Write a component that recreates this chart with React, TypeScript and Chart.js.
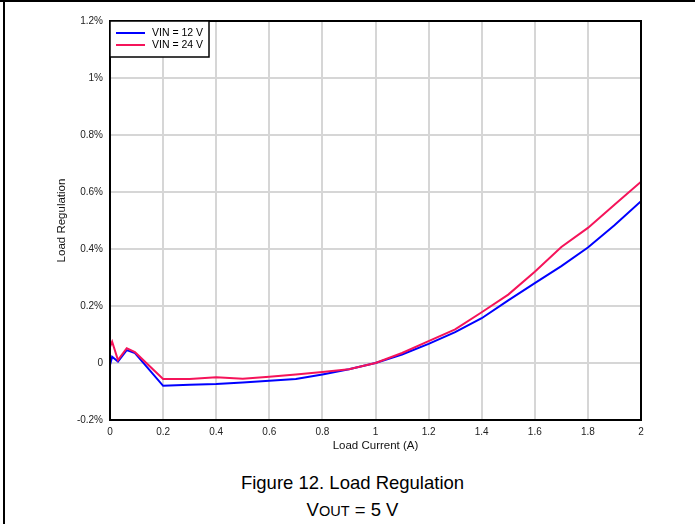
import React, { useEffect, useRef } from "react";
import { Chart, registerables } from "chart.js";

Chart.register(...registerables);

const FONT = '"Liberation Sans", Arial, Helvetica, sans-serif';

// Load current (A)
const currentVin12: number[] = [0, 0.008, 0.03, 0.063, 0.094, 0.2, 0.3, 0.4, 0.5, 0.6, 0.7, 0.8, 0.9, 1.0, 1.1, 1.2, 1.3, 1.4, 1.5, 1.6, 1.7, 1.8, 1.9, 2.0];
// Load regulation (%)
const regVin12: number[] = [-0.007, 0.022, 0.005, 0.045, 0.035, -0.08, -0.076, -0.074, -0.068, -0.062, -0.056, -0.04, -0.022, 0, 0.03, 0.067, 0.108, 0.157, 0.22, 0.28, 0.34, 0.405, 0.483, 0.568];

const currentVin24: number[] = [0, 0.008, 0.03, 0.063, 0.094, 0.2, 0.3, 0.4, 0.5, 0.6, 0.7, 0.8, 0.9, 1.0, 1.1, 1.2, 1.3, 1.4, 1.5, 1.6, 1.7, 1.8, 1.9, 2.0];
const regVin24: number[] = [0.057, 0.075, 0.01, 0.052, 0.038, -0.056, -0.056, -0.05, -0.055, -0.048, -0.04, -0.032, -0.022, 0, 0.035, 0.077, 0.118, 0.178, 0.24, 0.32, 0.407, 0.474, 0.555, 0.636];

const seriesLabels: string[] = ["VIN = 12 V", "VIN = 24 V"];
const seriesColors: string[] = ["#0000ff", "#f5145a"];

const xMin = 0, xMax = 2, xStep = 0.2;
const yMin = -0.2, yMax = 1.2, yStep = 0.2;

const fmt = (v: number) => Math.round(v * 10) / 10;

const frameAndLegend = {
  id: "frameAndLegend",
  afterDraw(chart: any) {
    const { ctx, chartArea } = chart;
    ctx.save();
    // plot border
    ctx.strokeStyle = "#000";
    ctx.lineWidth = 2;
    ctx.strokeRect(chartArea.left, chartArea.top, chartArea.right - chartArea.left, chartArea.bottom - chartArea.top);
    // legend box
    const bx = chartArea.left;
    const by = chartArea.top;
    const bw = 99;
    const bh = 36;
    ctx.fillStyle = "#fff";
    ctx.fillRect(bx, by, bw, bh);
    ctx.lineWidth = 1.5;
    ctx.strokeRect(bx, by, bw, bh);
    ctx.font = `10.5px ${FONT}`;
    ctx.textBaseline = "middle";
    ctx.textAlign = "left";
    chart.data.datasets.forEach((ds: any, i: number) => {
      const y = by + 12 + i * 12;
      ctx.strokeStyle = ds.borderColor;
      ctx.lineWidth = 2;
      ctx.beginPath();
      ctx.moveTo(bx + 6, y);
      ctx.lineTo(bx + 35, y);
      ctx.stroke();
      ctx.fillStyle = "#000";
      ctx.fillText(ds.label, bx + 42, y + 0.5);
    });
    ctx.restore();
  },
};

export default function App() {
  const canvasRef = useRef<HTMLCanvasElement | null>(null);

  useEffect(() => {
    if (!canvasRef.current) return;
    const chart = new Chart(canvasRef.current, {
      type: "line",
      data: {
        datasets: [
          {
            label: seriesLabels[0],
            data: currentVin12.map((x, i) => ({ x, y: regVin12[i] })),
            borderColor: seriesColors[0],
            backgroundColor: seriesColors[0],
            borderWidth: 2,
            pointRadius: 0,
            tension: 0,
            order: 2,
          },
          {
            label: seriesLabels[1],
            data: currentVin24.map((x, i) => ({ x, y: regVin24[i] })),
            borderColor: seriesColors[1],
            backgroundColor: seriesColors[1],
            borderWidth: 2,
            pointRadius: 0,
            tension: 0,
            order: 1,
          },
        ],
      },
      options: {
        responsive: false,
        animation: false,
        layout: { padding: { left: 0, top: 21, right: 54, bottom: 0 } },
        plugins: {
          legend: { display: false },
          tooltip: { enabled: false },
        },
        scales: {
          x: {
            type: "linear",
            min: xMin,
            max: xMax,
            afterFit: (scale: any) => {
              scale.height = 40;
            },
            ticks: {
              stepSize: xStep,
              padding: 6,
              maxRotation: 0,
              color: "#222",
              font: { family: FONT, size: 10 },
              callback: (v: any) => String(fmt(Number(v))),
            },
            grid: { color: "#d6d6d6", lineWidth: 2, drawTicks: false },
            border: { display: false },
            title: {
              display: true,
              text: "Load Current (A)",
              color: "#111",
              font: { family: FONT, size: 11.5 },
              padding: { top: 0, bottom: 7 },
            },
          },
          y: {
            min: yMin,
            max: yMax,
            afterFit: (scale: any) => {
              scale.width = 110;
            },
            ticks: {
              stepSize: yStep,
              padding: 7,
              color: "#222",
              font: { family: FONT, size: 10 },
              callback: (v: any) => {
                const n = fmt(Number(v));
                return n === 0 ? "0" : `${n}%`;
              },
            },
            grid: { color: "#d6d6d6", lineWidth: 2, drawTicks: false },
            border: { display: false },
            title: {
              display: true,
              text: "Load Regulation",
              color: "#111",
              font: { family: FONT, size: 11.5 },
              padding: { top: 55, bottom: 0 },
            },
          },
        },
      },
      plugins: [frameAndLegend],
    } as any);
    return () => chart.destroy();
  }, []);

  return (
    <div
      style={{
        position: "fixed",
        left: 0,
        top: 0,
        width: 695,
        height: 524,
        background: "#fff",
        overflow: "hidden",
        fontFamily: FONT,
      }}
    >
      <div style={{ position: "absolute", left: 0, top: 0, width: 695, height: 2, background: "#000" }} />
      <div style={{ position: "absolute", left: 3, top: 0, width: 2, height: 524, background: "#000" }} />
      <canvas ref={canvasRef} width={695} height={460} style={{ position: "absolute", left: 0, top: 0 }} />
      <div
        style={{
          position: "absolute",
          left: 0,
          width: 705,
          top: 472,
          textAlign: "center",
          fontSize: 18.5,
          lineHeight: "22px",
          color: "#000",
        }}
      >
        Figure 12. Load Regulation
      </div>
      <div
        style={{
          position: "absolute",
          left: 0,
          width: 705,
          top: 499,
          textAlign: "center",
          fontSize: 18.5,
          lineHeight: "22px",
          color: "#000",
        }}
      >
        V<span style={{ fontSize: 14.5 }}>OUT</span> = 5 V
      </div>
    </div>
  );
}
